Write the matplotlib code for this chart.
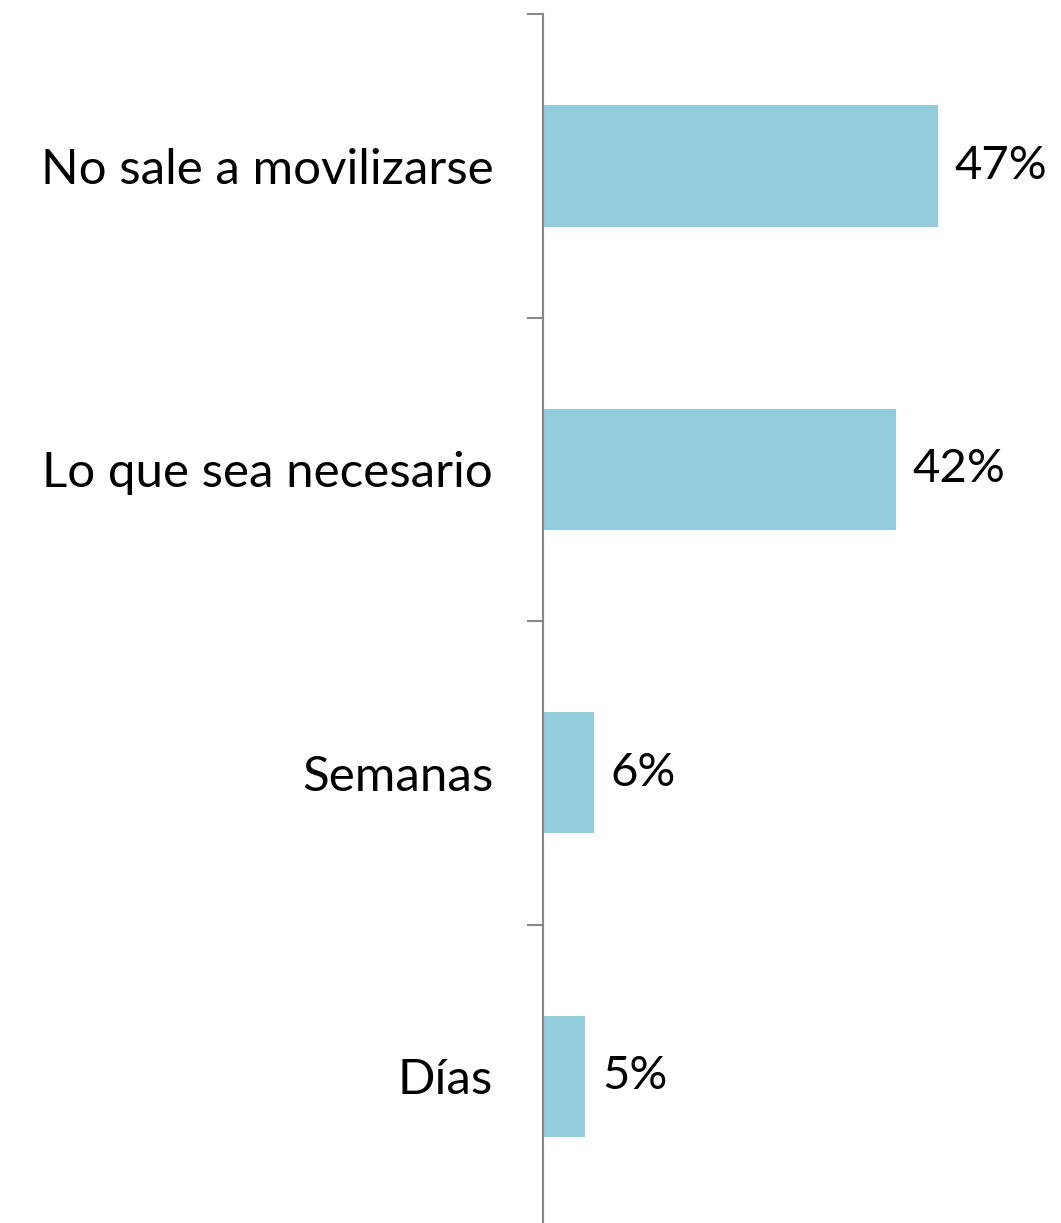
import matplotlib
matplotlib.use('Agg')
import matplotlib.pyplot as plt
import numpy as np

# Data
CATEGORIES = ['No sale a movilizarse', 'Lo que sea necesario', 'Semanas', 'Días']
VALUES = [47, 42, 6, 5]
BAR_COLOR = '#93CDDD'
AXIS_COLOR = '#878787'

plt.rcParams['font.family'] = ['Lato', 'DejaVu Sans']

fig = plt.figure(figsize=(10.61, 12.23), dpi=100)
# axes runs slightly past the bottom edge, so the last boundary tick is cut off
ax = fig.add_axes([0.512, -0.0041, 0.475, 0.9926])

n = len(CATEGORIES)
positions = np.arange(n)
ax.barh(positions, VALUES, height=0.4, color=BAR_COLOR)
ax.set_ylim(n - 0.5, -0.5)
ax.set_xlim(0, 60)

# Value labels
for pos, val in zip(positions, VALUES):
    ax.annotate(f'{val}%', xy=(val, pos), xytext=(12, 0), textcoords='offset points',
                va='center', ha='left', fontsize=34)

# Category labels with no tick marks; boundary ticks as minor ticks
ax.set_yticks(positions)
ax.set_yticklabels(CATEGORIES, fontsize=35.5)
ax.set_yticks(np.arange(n + 1) - 0.5, minor=True)
ax.tick_params(axis='y', which='major', length=0, pad=36)
ax.tick_params(axis='y', which='minor', length=11.5, width=1.5, color=AXIS_COLOR)
ax.set_xticks([])

for side in ['top', 'right', 'bottom']:
    ax.spines[side].set_visible(False)
ax.spines['left'].set_color(AXIS_COLOR)
ax.spines['left'].set_linewidth(1.5)

fig.savefig('out.png', dpi=100)
